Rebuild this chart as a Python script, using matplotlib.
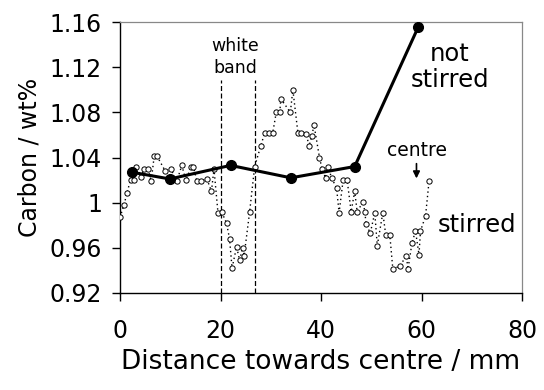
import matplotlib
matplotlib.use("Agg")
import matplotlib.pyplot as plt
from matplotlib.ticker import FixedLocator, FixedFormatter

# Dotted series (individual measurements)
dist_meas = [0.0, 0.8, 1.4, 2.1, 2.8, 3.2, 4.2, 4.8, 5.6, 6.2, 6.8, 7.4, 9.0, 10.1,
             11.3, 12.3, 13.1, 14.2, 14.6, 15.3, 16.1, 17.3, 18.2, 18.7, 19.5, 20.2,
             21.2, 21.8, 22.3, 23.2, 23.8, 24.4, 24.7, 25.8, 26.8, 28.0, 28.8, 29.6,
             30.4, 31.1, 31.8, 32.0, 33.9, 34.4, 35.4, 36.1, 37.1, 37.6, 38.2, 38.6,
             39.7, 40.2, 40.9, 41.4, 42.1, 43.1, 43.6, 44.4, 45.2, 46.0, 46.7, 47.2,
             48.4, 48.7, 49.0, 49.8, 50.7, 51.2, 52.3, 52.9, 53.7, 54.3, 55.7, 57.0,
             57.3, 58.1, 58.8, 59.5, 59.8, 60.8, 61.5]
carbon_meas = [0.987, 0.998, 1.009, 1.020, 1.020, 1.032, 1.023, 1.030, 1.030, 1.019,
               1.041, 1.041, 1.028, 1.030, 1.019, 1.033, 1.020, 1.032, 1.032, 1.019,
               1.019, 1.021, 1.010, 1.030, 0.991, 0.992, 0.982, 0.968, 0.942, 0.961,
               0.949, 0.960, 0.953, 0.992, 1.032, 1.050, 1.062, 1.062, 1.062, 1.080,
               1.080, 1.092, 1.080, 1.100, 1.062, 1.062, 1.061, 1.050, 1.059, 1.069,
               1.040, 1.030, 1.022, 1.032, 1.022, 1.013, 0.991, 1.020, 1.020, 0.992,
               1.010, 0.992, 1.001, 0.992, 0.981, 0.973, 0.991, 0.962, 0.991, 0.971,
               0.971, 0.941, 0.944, 0.953, 0.941, 0.964, 0.975, 0.954, 0.975, 0.988,
               1.019]

# Solid series (not stirred)
dist_ns = [2.3, 9.9, 22.0, 34.0, 46.7, 59.4]
carbon_ns = [1.027, 1.021, 1.033, 1.022, 1.032, 1.156]

# White band boundaries
band_edges = [20.0, 26.9]

yticks = [0.92, 0.96, 1.00, 1.04, 1.08, 1.12, 1.16]
ytick_labels = ["0.92", "0.96", "1", "1.04", "1.08", "1.12", "1.16"]
xticks = [0, 20, 40, 60, 80]

plt.rcParams['font.family'] = ['DejaVu Sans']

fig = plt.figure(figsize=(5.44, 3.90), dpi=100)
ax = fig.add_axes([120/544, 1-293/390, (522-120)/544, (293-22)/390])

ax.plot(dist_meas, carbon_meas, linestyle=(0, (1, 2.2)), color='black', lw=1.0,
        marker='o', markersize=3.8, markerfacecolor='white', markeredgecolor='black',
        markeredgewidth=0.7, zorder=3)
ax.plot(dist_ns, carbon_ns, '-', color='black', lw=2.2, marker='o', markersize=7,
        markerfacecolor='black', zorder=4)

for xb in band_edges:
    ax.plot([xb, xb], [0.92, 1.109], color='black', lw=0.9, linestyle=(0, (4, 2)), zorder=2)

ax.set_xlim(0, 80)
ax.set_ylim(0.92, 1.16)
ax.xaxis.set_major_locator(FixedLocator(xticks))
ax.yaxis.set_major_locator(FixedLocator(yticks))
ax.yaxis.set_major_formatter(FixedFormatter(ytick_labels))

for s in ['top', 'right']:
    ax.spines[s].set_color('#888888')
    ax.spines[s].set_linewidth(0.9)
for s in ['left', 'bottom']:
    ax.spines[s].set_color('black')
    ax.spines[s].set_linewidth(1.0)

ax.tick_params(axis='y', direction='out', length=6, width=1, labelsize=17, pad=7)
ax.tick_params(axis='x', direction='out', length=6, width=1, labelsize=17, pad=13)

ax.set_xlabel('Distance towards centre / mm', fontsize=19, labelpad=4)
ax.set_ylabel('Carbon / wt%', fontsize=17, labelpad=6)

ax.text(22.9, 1.129, 'white\nband', ha='center', va='center', fontsize=12.5,
        linespacing=1.35)
ax.text(65.6, 1.120, 'not\nstirred', ha='center', va='center', fontsize=17.5,
        linespacing=1.1)
ax.text(71.0, 0.980, 'stirred', ha='center', va='center', fontsize=17.5)
ax.text(59.2, 1.046, 'centre', ha='center', va='center', fontsize=13.5)
ax.annotate('', xy=(59.0, 1.019), xytext=(59.0, 1.037),
            arrowprops=dict(arrowstyle='-|>', color='black', lw=1.2,
                            mutation_scale=10))

fig.savefig('out.png', dpi=100)
